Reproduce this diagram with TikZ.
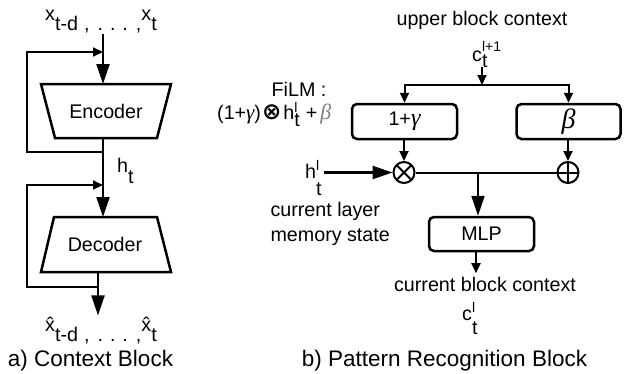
\documentclass[tikz,border=0pt]{standalone}
\usepackage{fontspec}
\setmainfont{Liberation Sans}
\newfontfamily\greekfont{Liberation Serif}
\newfontfamily\opfont{DejaVu Sans}
\usetikzlibrary{arrows.meta}

% text sizes
\newcommand\mainsize{\fontsize{19.7pt}{23pt}\selectfont}
\newcommand\capsize{\fontsize{22.5pt}{26pt}\selectfont}
\newcommand\smallsize{\fontsize{14pt}{14pt}\selectfont}
% stacked super/subscript: {sup}{sub}{raise of sup}{drop of sub}
\newcommand\supsub[4]{\mbox{\rlap{\raisebox{#3}{\smallsize #1}}\raisebox{-#4}{#2}}}
\newcommand\gk[2]{{\greekfont\itshape\fontsize{#1}{#1}\selectfont #2}}

\begin{document}
\begin{tikzpicture}[x=1pt,y=-1pt,
  every node/.style={font=\mainsize},
  ln/.style={line width=2pt},
  bigarrow/.style={ln,-{Triangle[length=20pt,width=13pt]}},
  smallarrow/.style={ln,-{Triangle[length=10pt,width=9pt]}},
  blockshape/.style={line width=2.5pt, line join=miter},
  rbox/.style={draw, line width=2.5pt, rounded corners=5pt, minimum width=105pt,
               minimum height=35pt, inner sep=0pt},
  opcirc/.style={draw, circle, line width=2pt, minimum size=21pt, inner sep=0pt},
  otimesop/.style={opcirc, path picture={
      \draw[line width=2pt] (path picture bounding box.north west) -- (path picture bounding box.south east)
                            (path picture bounding box.north east) -- (path picture bounding box.south west);}},
  oplusop/.style={opcirc, path picture={
      \draw[line width=2pt] (path picture bounding box.north) -- (path picture bounding box.south)
                            (path picture bounding box.east) -- (path picture bounding box.west);}},
]
\useasboundingbox (0,0) rectangle (624,373);

% ---------------- a) Context Block ----------------
\node[anchor=base, inner sep=1pt] (xin) at (101,30)
  {\raisebox{10pt}{x}t-d\hspace{6pt},\hspace{8pt}.\hspace{7pt}.\hspace{7pt}.\hspace{8pt},\raisebox{10pt}{x}t};

% encoder and decoder trapezoids
\draw[blockshape] (41,84) -- (171,84) -- (157,138) -- (55,138) -- cycle;
\node (enc) at (106,111) {Encoder};
\draw[blockshape] (54,217) -- (157,217) -- (171,272) -- (41,272) -- cycle;
\node (dec) at (105,244) {Decoder};

\coordinate (encT) at (103,84);
\coordinate (encB) at (103,138);
\coordinate (decT) at (103,217);
\coordinate (decB) at (98,272);
\coordinate (fb1) at (103,152);
\coordinate (fb1in) at (103,52);
\coordinate (fb2) at (98,287);
\coordinate (fb2in) at (103,185);

\draw[bigarrow] (xin.south -| encT) -- (encT);
\draw[smallarrow] (fb1) -| (27,52) -- (fb1in);
\draw[bigarrow] (encB) -- (decT);
\node[anchor=base west, inner sep=0pt] (ht) at (117,172) {h\raisebox{-11pt}{t}};
\draw[smallarrow] (fb2) -| (27,185) -- (fb2in);

\node[anchor=base, inner sep=1pt] (xout) at (101,341)
  {\raisebox{10pt}{\^{x}}t-d\hspace{6pt},\hspace{8pt}.\hspace{7pt}.\hspace{7pt}.\hspace{8pt},\raisebox{10pt}{\^{x}}t};
\draw[bigarrow] (decB) -- (decB |- xout.north);

\node[anchor=base, font=\capsize] (capA) at (90.5,366) {a) Context Block};

% ---------------- b) Pattern Recognition Block ----------------
\node[anchor=base] (upctx) at (482,25) {upper block context};
\node[anchor=base west, inner sep=0pt] (cup) at (472,61) {c\supsub{l+1}{t}{10pt}{6pt}};
\coordinate (split) at (482,85);
\draw[smallarrow] (cup.south -| split) -- (split);

\node[rbox] (gam) at (404.5,121.5) {1+\gk{24pt}{γ}};
\node[rbox, minimum width=104pt] (bet) at (568.5,121.5) {\gk{28pt}{β}};
\draw[smallarrow] (split) -| (gam.north);
\draw[smallarrow] (split) -| (bet.north);

\node[anchor=base] (film) at (299,96) {FiLM :};
\node[anchor=base west, inner sep=0pt] (formula) at (217,119)
  {(1+\gk{21pt}{γ})\hspace{1pt}{\opfont\bfseries\fontsize{23pt}{23pt}\selectfont ⊗}\hspace{2pt}h\supsub{l}{t}{7pt}{7pt}\hspace{6pt}+\hspace{3pt}\textcolor{gray}{\gk{22pt}{β}}};

\node[otimesop] (mul) at (404,172.5) {};
\node[oplusop] (add) at (568,172.5) {};
\draw[smallarrow] (gam.south -| mul) -- (mul.north);
\draw[smallarrow] (bet.south -| add) -- (add.north);

\node[anchor=base west, inner sep=2pt] (hl) at (303,178) {h\supsub{l}{t}{8pt}{17pt}};
\draw[line width=2.5pt,-{Triangle[length=20pt,width=13pt]}] (hl.east |- mul) -- (mul.west);
\draw[ln] (mul.east) -- (add.west);

\node[anchor=base west] (mem1) at (267,216) {current layer};
\node[anchor=base west] (mem2) at (267,241) {memory state};

\coordinate (jn) at (478,172.5);
\node[rbox, minimum height=34pt] (mlp) at (481.5,234) {MLP};
\draw[bigarrow] (jn) -- (jn |- mlp.north);

\node[anchor=base] (cbc) at (485,291) {current block context};
\draw[smallarrow] ([xshift=-5.5pt]mlp.south) -- ([xshift=-5.5pt]mlp.south |- cbc.north);
\node[anchor=base west, inner sep=0pt] (cl) at (462,320) {c\supsub{l}{t}{8pt}{14pt}};

\node[anchor=base, font=\capsize] (capB) at (444.5,366) {b) Pattern Recognition Block};
\end{tikzpicture}
\end{document}
